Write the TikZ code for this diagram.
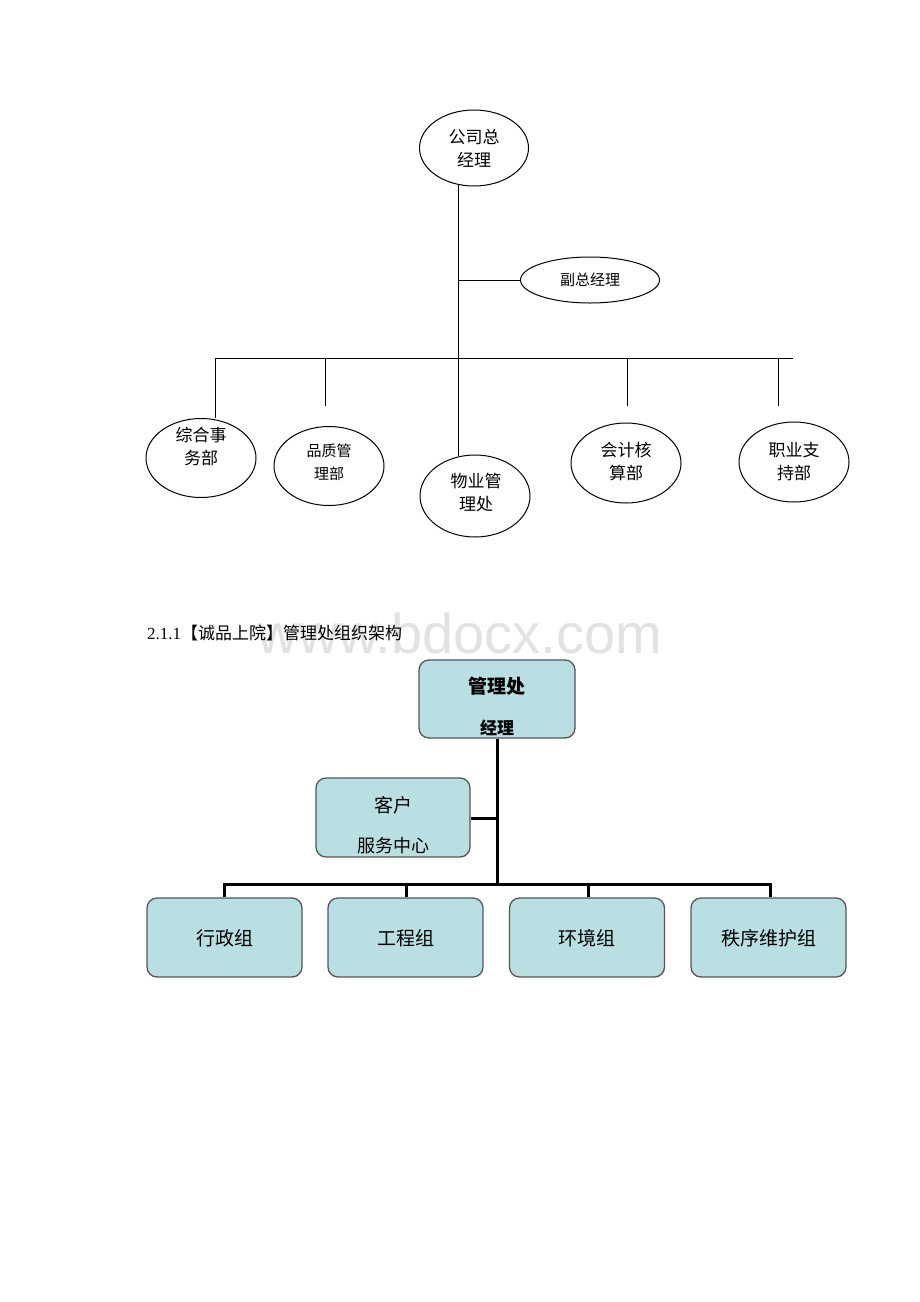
\documentclass[tikz,border=0pt]{standalone}
\usepackage{fontspec}
\setmainfont{Liberation Serif}
\newfontfamily\cjk{Noto Sans CJK SC}
\newfontfamily\wmfont{Liberation Sans}
\usetikzlibrary{shapes.geometric}
\definecolor{boxfill}{RGB}{185,223,227}
\definecolor{boxline}{RGB}{85,85,85}
\definecolor{wm}{RGB}{226,226,226}
\begin{document}
\begin{tikzpicture}[x=1pt,y=-1pt,
  ov/.style={draw, ellipse, line width=1pt, inner sep=0pt, minimum width=110pt, minimum height=80pt},
  ovtext/.style={align=center, inner sep=0pt, font=\cjk\fontsize{17}{23}\selectfont},
  conn/.style={line width=1pt},
  tbox/.style={draw=boxline, fill=boxfill, rounded corners=10pt, line width=1.3pt, minimum width=155pt, minimum height=79pt, inner sep=0pt},
  tboxtext/.style={inner sep=0pt, font=\cjk\fontsize{19}{23}\selectfont},
  bconn/.style={line width=3pt}]
\useasboundingbox (0,0) rectangle (920,1302);
\fill[white] (0,0) rectangle (920,1302);

% ---------- top chart ----------
\node[ov, minimum width=109pt, minimum height=76pt] (gm) at (474,148) {};
\node[ovtext] (gmt) at (474,148) {公司总\\经理};
\node[ov, minimum width=139pt, minimum height=46pt] (vgm) at (590,280) {};
\node[ovtext, font=\cjk\fontsize{15}{22}\selectfont] (vgmt) at (590,280) {副总经理};

\node[ov, minimum height=79pt] (d1) at (201,458) {};
\node[ovtext] (d1t) at (201,446) {综合事\\务部};
\node[ov, minimum height=79pt] (d2) at (329,466) {};
\node[ovtext, font=\cjk\fontsize{15}{23}\selectfont] (d2t) at (329,462) {品质管\\理部};
\node[ov, minimum height=82pt] (d3) at (475,496) {};
\node[ovtext] (d3t) at (476,493) {物业管\\理处};
\node[ov, minimum height=80pt] (d4) at (626,463) {};
\node[ovtext] (d4t) at (626,462) {会计核\\算部};
\node[ov, minimum height=80pt] (d5) at (794,462) {};
\node[ovtext] (d5t) at (794,462) {职业支\\持部};

\coordinate (trunkTop) at (458,184);
\coordinate (vj) at (458,280);
\coordinate (busL) at (215,358);
\coordinate (busR) at (793,358);
\coordinate (trunkBot) at (458,456);
\coordinate (b2) at (325,358);
\coordinate (b2e) at (325,406);
\coordinate (b4) at (627,358);
\coordinate (b4e) at (627,406);
\coordinate (b5) at (778,358);
\coordinate (b5e) at (778,406);

\draw[conn] (trunkTop) -- (trunkBot);
\draw[conn] (vj) -- (vgm.west);
\draw[conn] (busL) -- (busR);
\draw[conn] (busL) -- (d1.north -| busL);
\draw[conn] (b2) -- (b2e);
\draw[conn] (b4) -- (b4e);
\draw[conn] (b5) -- (b5e);

% ---------- caption & watermark ----------
\node[anchor=center, text=wm, inner sep=0pt, font=\wmfont\fontsize{56}{60}\selectfont] (wmark) at (460,633) {www.bdocx.com};
\node[anchor=west, inner sep=0pt, font=\fontsize{17}{20}\selectfont] (cap) at (147,633) {2.1.1{\cjk【诚品上院】管理处组织架构}};

% ---------- bottom chart ----------
\node[tbox, minimum width=156pt, minimum height=78pt] (mgr) at (497,699) {};
\node[tboxtext, font=\cjk\bfseries\fontsize{19}{23}\selectfont] (mgrt1) at (497,686) {管理处};
\node[tboxtext, font=\cjk\bfseries\fontsize{17}{20}\selectfont] (mgrt2) at (497,728) {经理};

\node[tbox, minimum width=154pt] (cs) at (393,817.5) {};
\node[tboxtext] (cst1) at (393,805) {客户};
\node[tboxtext, font=\cjk\fontsize{18}{22}\selectfont] (cst2) at (393,846) {服务中心};

\node[tbox] (g1) at (224.5,937.5) {};
\node[tboxtext] (g1t) at (224.5,938) {行政组};
\node[tbox] (g2) at (405.5,937.5) {};
\node[tboxtext] (g2t) at (405.5,938) {工程组};
\node[tbox] (g3) at (587,937.5) {};
\node[tboxtext] (g3t) at (587,938) {环境组};
\node[tbox] (g4) at (768.5,937.5) {};
\node[tboxtext] (g4t) at (768.5,938) {秩序维护组};

\coordinate (mj) at (497,818);
\coordinate (bj) at (497,884);
\coordinate (bl) at (224,884);
\coordinate (br) at (770,884);

\draw[bconn] (mgr.south -| bj) -- (bj);
\draw[bconn] (cs.east |- mj) -- (mj);
\draw[bconn, line cap=rect] (bl) -- (br);
\draw[bconn] (bl) -- (g1.north -| bl);
\draw[bconn] (406,884) -- (g2.north -| 406,0);
\draw[bconn] (588,884) -- (g3.north -| 588,0);
\draw[bconn] (br) -- (g4.north -| br);
\end{tikzpicture}
\end{document}
